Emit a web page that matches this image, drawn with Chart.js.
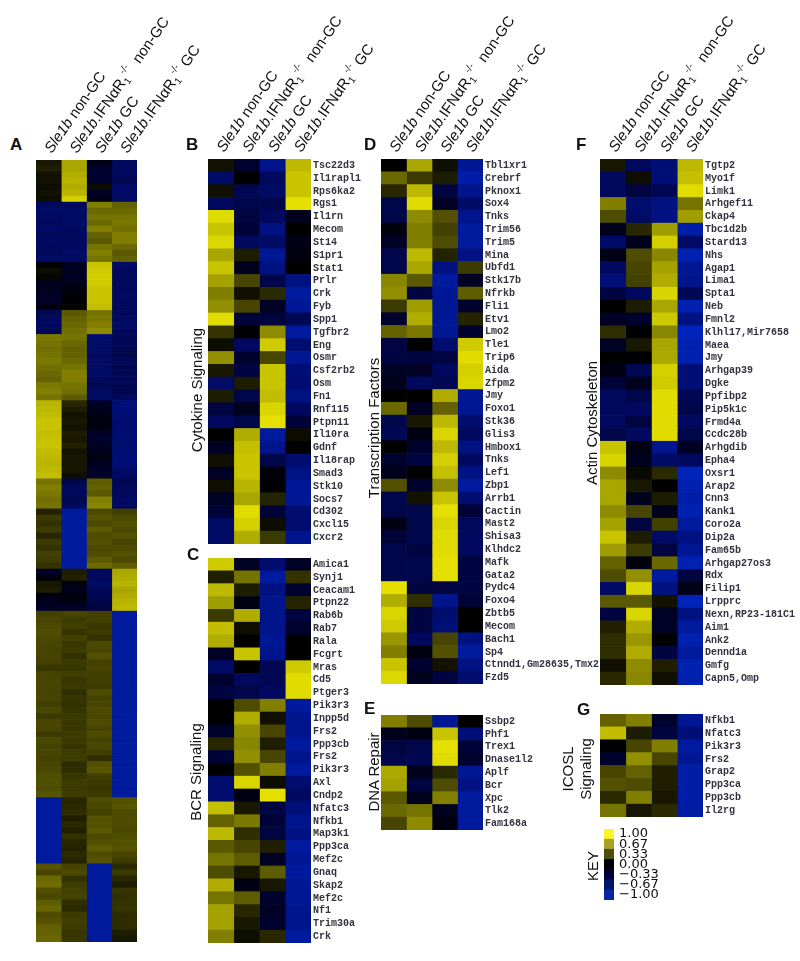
<!DOCTYPE html>
<html>
<head>
<meta charset="utf-8">
<title>Heatmaps</title>
<script src="https://cdn.jsdelivr.net/npm/chart.js@4"></script>
<style>
  html, body { margin: 0; background: #fff; }
  #page { position: relative; width: 800px; height: 961px; overflow: hidden; font-family: "Liberation Sans", sans-serif; color: #111; }
  canvas { position: absolute; }
  .letter { position: absolute; font-weight: bold; font-size: 17px; line-height: 17px; }
  .side { position: absolute; font-size: 15px; line-height: 15px; white-space: nowrap; transform: translate(-50%, -50%) rotate(-90deg); }
</style>
</head>
<body>
<div id="page"></div>
<script>
// one row per gene, columns in the order of the header labels
var aValues = [
  [.1,.72,-.1,-.5],[.13,.72,-.25,-.5],[.08,.75,-.25,-.5],[.08,.78,-.25,-.45],[.05,.75,.05,-.55],[.08,.78,-.2,-.55],[.06,.9,-.12,-.55],
  [-.5,-.5,.55,.42],[-.55,-.55,.45,.45],[-.52,-.55,.5,.5],[-.5,-.55,.45,.52],[-.55,-.52,.55,.48],[-.48,-.5,.42,.55],[-.52,-.52,.38,.55],[-.5,-.52,.5,.45],[-.48,-.55,.55,.38],[-.55,-.55,.5,.42],
  [-.03,-.2,.85,-.55],[.05,-.15,.88,-.5],[.02,-.2,.9,-.5],[-.15,-.12,.88,-.5],[-.15,-.1,.85,-.5],[-.2,-.05,.85,-.52],[-.2,-.02,.85,-.5],[-.1,.02,.82,-.5],
  [-.45,.38,.5,-.5],[-.5,.42,.52,-.52],[-.5,.45,.55,-.55],[-.45,.48,.6,-.5],
  [.52,.5,-.6,-.45],[.5,.45,-.55,-.48],[.48,.42,-.55,-.42],[.5,.42,-.52,-.4],[.52,.45,-.55,-.48],[.48,.5,-.52,-.42],[.45,.55,-.55,-.45],[.42,.55,-.5,-.48],[.52,.5,-.45,-.45],[.55,.48,-.52,-.42],[.5,.4,-.55,-.5],
  [.78,.17,-.2,-.65],[.8,.12,-.15,-.65],[.82,.08,-.1,-.62],[.85,.1,-.08,-.6],[.85,.08,-.1,-.6],[.82,.12,-.2,-.62],[.84,.1,-.25,-.62],[.85,.14,-.18,-.6],[.82,.08,-.15,-.62],[.8,.1,-.1,-.65],[.78,.09,-.18,-.65],[.8,.1,-.2,-.55],[.82,.06,-.22,-.55],
  [.5,-.4,.4,-.45],[.55,-.5,.42,-.5],[.52,-.5,.38,-.5],[.48,-.45,.55,-.52],[.5,-.5,.58,-.52],
  [.14,-.85,.32,.27],[.25,-.85,.36,.32],[.22,-.85,.32,.35],[.26,-.85,.38,.32],[.16,-.85,.33,.35],[.25,-.85,.35,.3],[.22,-.85,.32,.32],[.28,-.85,.33,.35],[.26,-.85,.38,.32],[.22,-.85,.46,.4],
  [-.2,.12,-.5,.72],[-.08,.14,-.5,.75],[.1,-.1,-.55,.78],[.12,-.15,-.45,.72],[-.1,-.05,-.45,.75],[-.15,-.12,-.38,.78],[-.2,-.2,-.35,.8],
  [.28,.3,.27,-.85],[.3,.26,.28,-.85],[.32,.27,.24,-.85],[.34,.23,.26,-.85],[.32,.28,.22,-.85],[.3,.24,.32,-.85],[.29,.26,.3,-.85],[.3,.21,.35,-.85],[.28,.25,.29,-.85],[.24,.24,.3,-.85],[.29,.27,.27,-.85],[.3,.24,.27,-.85],[.3,.25,.26,-.85],[.29,.2,.32,-.85],[.3,.23,.29,-.85],[.27,.21,.3,-.85],[.31,.23,.32,-.85],[.25,.25,.3,-.85],[.3,.24,.33,-.85],[.3,.24,.3,-.85],[.25,.26,.33,-.85],[.31,.25,.29,-.85],[.29,.23,.31,-.85],[.3,.25,.27,-.85],[.28,.26,.2,-.85],[.3,.19,.35,-.85],[.31,.2,.37,-.85],[.34,.24,.27,-.85],[.34,.26,.25,-.85],[.33,.25,.24,-.85],[.37,.26,.25,-.85],
  [-.85,.16,.33,.35],[-.85,.18,.31,.37],[-.85,.2,.28,.33],[-.85,.13,.35,.33],[-.85,.18,.36,.32],[-.85,.14,.38,.31],[-.85,.21,.32,.34],[-.85,.17,.35,.35],[-.85,.15,.4,.36],[-.85,.19,.33,.3],[-.85,.15,.36,.26],
  [.36,.29,-.85,.18],[.3,.32,-.85,.25],[.45,.21,-.85,.17],[.47,.26,-.85,.12],[.34,.28,-.85,.23],[.31,.29,-.85,.21],[.4,.2,-.85,.22],[.44,.18,-.85,.23],[.33,.26,-.85,.19],[.36,.27,-.85,.2],[.41,.26,-.85,.19],[.42,.23,-.85,.13],[.44,.24,-.85,.1]
];

var bGenes = ["Tsc22d3","Il1rapl1","Rps6ka2","Rgs1","Il1rn","Mecom","St14","S1pr1","Stat1","Prlr","Crk","Fyb","Spp1","Tgfbr2","Eng","Osmr","Csf2rb2","Osm","Fn1","Rnf115","Ptpn11","Il10ra","Gdnf","Il18rap","Smad3","Stk10","Socs7","Cd302","Cxcl15","Cxcr2"];
var bValues = [
  [.08,-.25,-.75,.8],[-.55,0,-.5,.85],[.07,-.45,-.55,.85],[-.5,-.4,-.4,.97],[.95,-.35,-.5,-.15],[.85,-.3,-.7,0],
  [.93,-.5,-.55,-.12],[.72,.12,-.8,-.08],[.85,-.15,-.7,0],[.7,.3,-.4,-.7],[.55,.07,.18,-.85],[.62,.3,-.2,-.8],
  [.95,-.3,-.33,-.45],[.22,0,.6,-.85],[.05,-.5,.88,-.6],[.62,-.25,.3,-.8],[.1,-.35,.85,-.65],[-.55,.12,.85,-.6],
  [.12,-.4,.82,-.7],[-.35,-.15,.92,-.5],[-.5,-.4,.97,-.3],[0,.75,-.85,.05],[-.2,.83,-.75,0],[.07,.85,-.4,-.6],
  [-.2,.85,-.05,-.7],[.06,.78,0,-.8],[-.2,.72,.15,-.8],[-.3,.95,-.3,-.6],[-.55,.9,.05,-.6],[-.55,.75,.25,-.75]
];

var cGenes = ["Amica1","Synj1","Ceacam1","Ptpn22","Rab6b","Rab7","Rala","Fcgrt","Mras","Cd5","Ptger3","Pik3r3","Inpp5d","Frs2","Ppp3cb","Frs2","Pik3r3","Axl","Cndp2","Nfatc3","Nfkb1","Map3k1","Ppp3ca","Mef2c","Gnaq","Skap2","Mef2c","Nf1","Trim30a","Crk"];
var cValues = [
  [.88,-.2,-.6,-.2],[.13,.5,-.85,.22],[.8,.12,-.7,-.25],[.68,-.1,-.75,.15],[.25,.75,-.75,-.35],[.82,.06,-.75,-.25],
  [.75,0,-.8,0],[-.2,.85,-.75,0],[-.55,0,-.45,.88],[-.25,-.5,-.45,.95],[-.35,-.4,-.5,.95],[0,.33,.55,-.85],
  [0,.75,.07,-.75],[-.25,.62,.3,-.75],[.17,.58,.13,-.85],[-.3,.62,.3,-.75],[0,.35,.55,-.85],[-.6,.92,.05,-.6],
  [-.6,-.1,.97,-.5],[.83,.1,-.35,-.65],[.42,.52,-.3,-.75],[.8,.2,-.35,-.7],[.38,.3,.13,-.85],[.5,.4,-.2,-.8],
  [.33,.1,.4,-.85],[.75,-.1,.1,-.8],[.5,.4,-.25,-.8],[.7,.17,-.2,-.75],[.7,.1,-.25,-.75],[.55,.06,.17,-.85]
];

var dGenes = ["Tbl1xr1","Crebrf","Pknox1","Sox4","Tnks","Trim56","Trim5","Mina","Ubfd1","Stk17b","Nfrkb","Fli1","Etv1","Lmo2","Tle1","Trip6","Aida","Zfpm2","Jmy","Foxo1","Stk36","Glis3","Hmbox1","Tnks","Lef1","Zbp1","Arrb1","Cactin","Mast2","Shisa3","Klhdc2","Mafk","Gata2","Pydc4","Foxo4","Zbtb5","Mecom","Bach1","Sp4","Ctnnd1,Gm28635,Tmx2","Fzd5"];
var dValues = [
  [0,.72,.06,-.8],[.45,.25,.12,-.9],[.17,.8,-.35,-.75],[-.4,.95,-.2,-.55],[-.4,.6,.35,-.75],[-.08,.55,.28,-.85],
  [-.2,.55,.33,-.85],[-.4,.8,.15,-.7],[-.4,.72,-.7,.25],[.58,.38,-.85,-.2],[.62,-.35,-.8,.4],[.25,.68,-.8,-.25],
  [-.25,.75,-.8,.15],[.42,.52,-.8,-.25],[-.35,0,-.6,.88],[-.35,-.35,-.35,.95],[-.2,-.2,-.5,.9],[-.15,-.5,-.45,.92],
  [0,0,.75,-.8],[.45,-.2,.42,-.8],[-.4,.1,.8,-.6],[-.45,-.1,.92,-.5],[0,-.25,.8,-.7],[-.25,-.35,.9,-.5],
  [-.15,0,.83,-.7],[.35,-.25,.6,-.85],[-.4,.08,.85,-.6],[-.4,-.4,.97,-.3],[-.1,-.4,.92,-.5],[-.3,-.4,.95,-.5],
  [-.4,-.35,.95,-.5],[-.4,-.4,.97,-.35],[-.4,-.4,.97,-.35],[.97,-.35,-.35,-.35],[.75,.2,-.75,-.3],[.92,-.35,-.6,0],
  [.88,-.35,-.65,0],[.65,-.5,.3,-.7],[.55,-.08,.35,-.85],[.85,-.25,.08,-.7],[.93,-.15,-.35,-.6]
];

var eGenes = ["Ssbp2","Phf1","Trex1","Dnase1l2","Aplf","Bcr","Xpc","Tlk2","Fam168a"];
var eValues = [
  [.55,.33,-.8,0],[-.15,-.1,.85,-.65],[-.35,-.4,.97,-.3],[-.4,-.45,.95,-.25],[.73,-.15,.18,-.8],
  [.7,-.35,.33,-.7],[.38,-.15,.55,-.85],[.45,.5,-.15,-.85],[.3,.6,-.08,-.85]
];

var fGenes = ["Tgtp2","Myo1f","Limk1","Arhgef11","Ckap4","Tbc1d2b","Stard13","Nhs","Agap1","Lima1","Spta1","Neb","Fmnl2","Klhl17,Mir7658","Maea","Jmy","Arhgap39","Dgke","Ppfibp2","Pip5k1c","Frmd4a","Ccdc28b","Arhgdib","Epha4","Oxsr1","Arap2","Cnn3","Kank1","Coro2a","Dip2a","Fam65b","Arhgap27os3","Rdx","Filip1","Lrpprc","Nexn,RP23-181C1","Aim1","Ank2","Dennd1a","Gmfg","Capn5,Omp"];
var fValues = [
  [.1,-.5,-.65,.8],[-.5,.06,-.65,.83],[-.5,-.35,-.45,.95],[.55,-.6,-.7,.5],[.33,-.55,-.7,.68],[-.15,.17,.68,-.9],
  [-.55,-.15,.9,-.55],[-.12,.33,.58,-.95],[-.5,.3,.7,-.8],[-.65,.28,.75,-.75],[-.35,-.5,.92,-.45],[0,.12,.72,-.95],
  [-.2,-.25,.87,-.7],[.2,0,.58,-1],[-.2,.1,.72,-.95],[0,0,.73,-.95],[-.1,-.45,.9,-.65],[-.3,-.15,.88,-.65],
  [-.5,-.4,.95,-.45],[-.5,-.5,.95,-.4],[-.5,-.35,.95,-.5],[-.4,-.5,.95,-.4],[.85,-.1,-.75,-.2],[.92,-.15,-.55,-.5],
  [.6,.04,.18,-1],[.72,.1,0,-.95],[.72,-.15,.12,-.9],[.6,.3,-.15,-.95],[.7,-.35,.28,-.85],[.85,.12,-.55,-.7],
  [.68,.25,-.35,-.8],[.42,-.08,.45,-.95],[.33,.62,-.85,-.35],[-.55,.92,-.7,-.12],[.38,.38,.08,-1],[-.35,.92,-.2,-.7],
  [.14,.75,-.2,-.85],[.2,.65,0,-.95],[.2,.75,-.35,-.85],[.07,.6,.13,-.95],[.17,.58,.07,-.95]
];

var gGenes = ["Nfkb1","Nfatc3","Pik3r3","Frs2","Grap2","Ppp3ca","Ppp3cb","Il2rg"];
var gValues = [
  [.42,.55,-.25,-.8],[.82,.12,-.35,-.65],[0,.3,.55,-.85],[-.25,.62,.3,-.8],
  [.3,.42,.13,-.9],[.35,.33,.13,-.9],[.18,.55,.1,-.9],[.5,.1,.18,-.88]
];

var keyLabels = ["1.00","0.67","0.33","0.00","\u22120.33","\u22120.67","\u22121.00"];
var keyValues = [1,1,1,1,1,1,1];
var keyColors = ["#fdf52c","#a5a31f","#4f4d0c","#000000","#00003c","#001668","#0a25a4"];

// header pieces: text, then n = normal, i = italic, sub, sup
var columnHeaders = [
  [["Sle1b","i"],[" non-GC","n"]],
  [["Sle1b","i"],[".IFN\u03b1R","n"],["1","sub"],["-/-","sup"],["  non-GC","n"]],
  [["Sle1b","i"],[" GC","n"]],
  [["Sle1b","i"],[".IFN\u03b1R","n"],["1","sub"],["-/-","sup"],[" GC","n"]]
];

var page = document.getElementById("page");

function cellColor(v) {
  if (v >= 0) {
    return "rgb(" + Math.round(236 * v) + "," + Math.round(231 * v) + ",0)";
  }
  var a = -v;
  return "rgb(0," + Math.round(36 * a * a) + "," + Math.round(185 * a) + ")";
}

var headerPlugin = {
  id: "headerPlugin",
  afterDraw: function (chart) {
    if (!chart.options.plugins.headerPlugin.show) return;
    var ctx = chart.ctx;
    var scale = chart.scales.x;
    columnHeaders.forEach(function (pieces, i) {
      ctx.save();
      ctx.translate(scale.getPixelForValue(i + 0.5) + 3, chart.chartArea.top - 6);
      ctx.rotate(-55 * Math.PI / 180);
      ctx.fillStyle = "#111";
      ctx.textBaseline = "alphabetic";
      var x = 0;
      pieces.forEach(function (p) {
        var y = 0;
        if (p[1] == "i") ctx.font = 'italic 15px "Liberation Sans"';
        else if (p[1] == "sub") { ctx.font = '10px "Liberation Sans"'; y = 3; }
        else if (p[1] == "sup") { ctx.font = '10px "Liberation Sans"'; y = -7; }
        else ctx.font = '15px "Liberation Sans"';
        ctx.fillText(p[0], x, y);
        x += ctx.measureText(p[0]).width;
      });
      ctx.restore();
    });
  }
};

function dropLabelPadding(s, width) {
  s.width = width;
  s.paddingTop = 0;
  s.paddingBottom = 0;
}

function drawHeatmap(labels, values, box) {
  var canvas = document.createElement("canvas");
  var canvasTop = box.header ? 0 : box.top;
  var padRight = box.padRight || 0;
  canvas.width = box.width + box.labelWidth + padRight;
  canvas.height = box.bottom - canvasTop;
  canvas.style.left = box.left + "px";
  canvas.style.top = canvasTop + "px";
  page.appendChild(canvas);

  var datasets = [0, 1, 2, 3].map(function (col) {
    return {
      data: values.map(function () { return 1; }),
      backgroundColor: values.map(function (row) { return cellColor(row[col]); }),
      borderWidth: 0,
      barPercentage: 1,
      categoryPercentage: 1
    };
  });

  new Chart(canvas.getContext("2d"), {
    type: "bar",
    data: { labels: labels, datasets: datasets },
    options: {
      indexAxis: "y",
      responsive: false,
      animation: false,
      layout: { padding: { top: box.header ? box.top : 0, right: padRight } },
      plugins: { legend: { display: false }, tooltip: { enabled: false }, headerPlugin: { show: box.header } },
      scales: {
        x: { stacked: true, min: 0, max: 4, display: false },
        y: {
          stacked: true,
          position: "right",
          display: box.labelWidth > 0,
          grid: { display: false, drawTicks: false },
          border: { display: false },
          afterFit: function (s) { dropLabelPadding(s, box.labelWidth); },
          ticks: {
            autoSkip: false,
            padding: 2,
            color: "#33333f",
            font: { family: "Liberation Mono", size: 10, weight: "bold" }
          }
        }
      }
    },
    plugins: [headerPlugin]
  });
}

function drawKey() {
  var canvas = document.createElement("canvas");
  canvas.width = 70;
  canvas.height = 83;
  canvas.style.left = "604px";
  canvas.style.top = "823px";
  page.appendChild(canvas);
  new Chart(canvas.getContext("2d"), {
    type: "bar",
    data: {
      labels: keyLabels,
      datasets: [{ data: keyValues, backgroundColor: keyColors, borderWidth: 0, barPercentage: 1, categoryPercentage: 1 }]
    },
    options: {
      indexAxis: "y",
      responsive: false,
      animation: false,
      layout: { padding: { top: 6, bottom: 6 } },
      plugins: { legend: { display: false }, tooltip: { enabled: false } },
      scales: {
        x: { min: 0, max: 1, display: false },
        y: {
          position: "right",
          grid: { display: false, drawTicks: false },
          border: { display: false },
          afterFit: function (s) { dropLabelPadding(s, 60); },
          ticks: { autoSkip: false, padding: 5, color: "#111", font: { family: "DejaVu Sans", size: 13 } }
        }
      }
    }
  });
}

function addLetter(text, x, y) {
  var el = document.createElement("div");
  el.className = "letter";
  el.textContent = text;
  el.style.left = x + "px";
  el.style.top = y + "px";
  page.appendChild(el);
}

function addSide(text, x, y) {
  var el = document.createElement("div");
  el.className = "side";
  el.textContent = text;
  el.style.left = x + "px";
  el.style.top = y + "px";
  page.appendChild(el);
}

var rowLabelsA = aValues.map(function (row, i) { return String(i + 1); });

drawHeatmap(rowLabelsA, aValues, { left: 36, top: 160, bottom: 942, width: 101, labelWidth: 0, padRight: 90, header: true });
drawHeatmap(bGenes, bValues, { left: 208, top: 159, bottom: 544, width: 103, labelWidth: 75, header: true });
drawHeatmap(cGenes, cValues, { left: 208, top: 558, bottom: 943, width: 103, labelWidth: 70, header: false });
drawHeatmap(dGenes, dValues, { left: 381, top: 159, bottom: 684, width: 102, labelWidth: 130, header: true });
drawHeatmap(eGenes, eValues, { left: 381, top: 715, bottom: 830, width: 102, labelWidth: 70, header: false });
drawHeatmap(fGenes, fValues, { left: 600, top: 159, bottom: 685, width: 103, labelWidth: 97, header: true });
drawHeatmap(gGenes, gValues, { left: 600, top: 714, bottom: 817, width: 103, labelWidth: 70, header: false });
drawKey();

addLetter("A", 10, 136);
addLetter("B", 186, 136);
addLetter("C", 187, 546);
addLetter("D", 364, 136);
addLetter("E", 364, 700);
addLetter("F", 576, 136);
addLetter("G", 577, 701);

addSide("Cytokine Signaling", 196, 390);
addSide("BCR Signaling", 195, 772);
addSide("Transcription Factors", 373, 428);
addSide("DNA Repair", 373, 772);
addSide("Actin Cytoskeleton", 591, 423);
addSide("ICOSL", 567, 769);
addSide("Signaling", 585, 769);
addSide("KEY", 592, 866);
</script>
</body>
</html>
